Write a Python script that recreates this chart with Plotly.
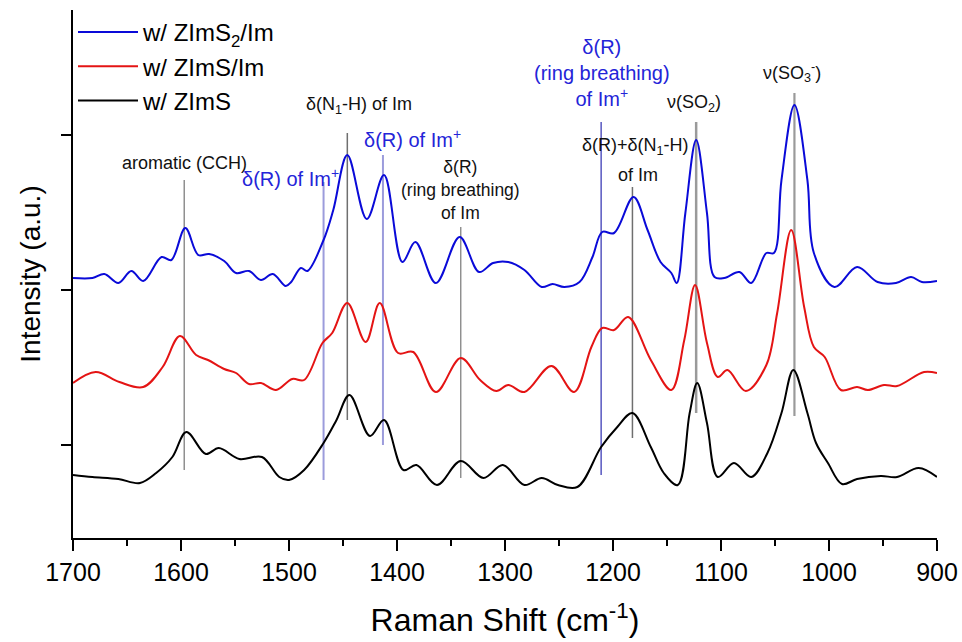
import plotly.graph_objects as go

# ---------------- data (Raman shift in cm-1, intensity in a.u.) ----------------
wn_blue = [1700, 1682, 1671, 1658, 1646, 1635, 1618, 1609, 1596, 1584,
           1574, 1560, 1549, 1537, 1526, 1515, 1503, 1498, 1489, 1483,
           1468, 1459, 1446, 1428, 1412, 1395, 1383, 1364, 1342, 1324,
           1311, 1297, 1282, 1266, 1256, 1245, 1231, 1219, 1210, 1199,
           1181, 1168, 1156, 1146, 1141, 1133, 1123, 1113, 1106, 1097,
           1083, 1072, 1058, 1051, 1044, 1032, 1020, 1014, 995, 974,
           955, 938, 924, 914, 900]
int_blue = [260, 260, 264, 255, 267, 257, 281, 278, 310, 283,
            284, 277, 265, 267, 258, 264, 252, 256, 270, 267,
            298, 328, 383, 319, 363, 276, 296, 255, 301, 266,
            275, 276, 268, 251, 254, 251, 256, 281, 306, 305,
            341, 308, 276, 265, 255, 325, 398, 325, 261, 260,
            266, 255, 285, 285, 358, 433, 358, 285, 251, 271,
            256, 255, 261, 256, 257]

wn_red = [1700, 1679, 1657, 1635, 1617, 1601, 1586, 1575, 1560, 1549,
          1537, 1526, 1512, 1497, 1486, 1469, 1460, 1446, 1429, 1416,
          1399, 1385, 1364, 1341, 1323, 1308, 1297, 1282, 1257, 1236,
          1220, 1210, 1199, 1186, 1165, 1146, 1134, 1124, 1113, 1103,
          1094, 1077, 1058, 1048, 1035, 1023, 1014, 1004, 989, 974,
          964, 949, 937, 912, 900]
int_red = [155, 166, 156, 151, 171, 202, 183, 178, 169, 165,
           154, 155, 148, 159, 158, 195, 205, 235, 196, 235,
           185, 186, 146, 180, 158, 147, 153, 146, 172, 146,
           191, 210, 208, 221, 178, 148, 198, 253, 195, 161,
           168, 147, 173, 225, 308, 231, 191, 181, 148, 151,
           148, 153, 152, 166, 165]

wn_black = [1700, 1682, 1658, 1638, 1623, 1608, 1595, 1577, 1565, 1546,
            1525, 1509, 1500, 1486, 1468, 1456, 1444, 1425, 1412, 1394,
            1382, 1363, 1341, 1320, 1302, 1282, 1266, 1251, 1233, 1211,
            1196, 1182, 1165, 1153, 1140, 1129, 1122, 1113, 1103, 1088,
            1072, 1057, 1044, 1033, 1020, 1012, 1001, 988, 974, 952,
            937, 917, 900]
int_black = [63, 61, 59, 55, 65, 81, 106, 84, 90, 79,
             81, 61, 58, 68, 95, 118, 143, 102, 118, 68,
             73, 53, 77, 60, 73, 53, 60, 53, 51, 91,
             111, 125, 91, 65, 53, 125, 155, 115, 61, 75,
             61, 85, 125, 168, 125, 95, 75, 54, 59, 62,
             61, 70, 61]

series_names = ["w/ ZImS<sub>2</sub>/Im", "w/ ZImS/Im", "w/ ZImS"]
series_colors = ["#0a0ad8", "#e41414", "#000000"]

x_ticks = [1700, 1600, 1500, 1400, 1300, 1200, 1100, 1000, 900]
y_ticks = [93, 248, 403]

# band-marker lines
mark_x = [1597, 1468, 1446, 1413, 1341, 1211, 1182, 1123, 1032]
mark_y0 = [68, 58, 118, 93, 60, 63, 100, 125, 122]
mark_y1 = [358, 356, 405, 383, 311, 416, 351, 416, 445]
mark_color = ["#8f8f8f", "#9c9cdc", "#6f6f6f", "#9c9cdc", "#8f8f8f",
              "#2d2db0", "#6f6f6f", "#9a9a9a", "#9a9a9a"]
mark_width = [1.5, 2, 1.5, 2, 1.5, 1.2, 1.5, 2.5, 2.2]

# band labels
lab_text = ["aromatic (CCH)",
            "δ(R) of Im<sup>+</sup>",
            "δ(N<sub>1</sub>-H) of Im",
            "δ(R) of Im<sup>+</sup>",
            "δ(R)<br>(ring breathing)<br>of Im",
            "δ(R)<br>(ring breathing)<br>of Im<sup>+</sup>",
            "δ(R)+δ(N<sub>1</sub>-H)",
            "of Im",
            "ν(SO<sub>2</sub>)",
            "ν(SO<sub>3</sub><sup>-</sup>)"]
lab_x = [1597, 1499, 1435, 1386, 1341, 1210, 1179, 1177, 1125, 1034]
lab_y = [375, 361, 433, 400, 348, 465, 392, 363, 435, 466]
lab_color = ["#111111", "#2424d8", "#111111", "#2424d8", "#111111",
             "#2424d8", "#111111", "#111111", "#111111", "#111111"]
lab_size = [18, 20, 18, 20, 17.5, 20, 18, 18, 18, 18]

# ---------------- figure ----------------
fig = go.Figure()
for wn, inten, name, col in zip([wn_blue, wn_red, wn_black],
                                [int_blue, int_red, int_black],
                                series_names, series_colors):
    fig.add_trace(go.Scatter(x=wn, y=inten, mode="lines", name=name,
                             line=dict(color=col, width=2, shape="spline", smoothing=1.0)))

for x, y0, y1, c, w in zip(mark_x, mark_y0, mark_y1, mark_color, mark_width):
    fig.add_shape(type="line", xref="x", yref="y", x0=x, x1=x, y0=y0, y1=y1,
                  line=dict(color=c, width=w), layer="below")

for t, x, y, c, s in zip(lab_text, lab_x, lab_y, lab_color, lab_size):
    fig.add_annotation(x=x, y=y, xref="x", yref="y", text=t, showarrow=False,
                       font=dict(size=s, color=c, family="Arial, Liberation Sans"),
                       xanchor="center", yanchor="middle", align="center")

fig.update_layout(
    width=962, height=642,
    margin=dict(l=73, r=25, t=10, b=104, autoexpand=False),
    paper_bgcolor="white", plot_bgcolor="white",
    font=dict(family="Arial, Liberation Sans", color="black"),
    showlegend=True,
    legend=dict(x=0.0, y=1.0, xanchor="left", yanchor="top",
                font=dict(size=24, color="black"), bgcolor="rgba(0,0,0,0)",
                itemwidth=60, tracegroupgap=0),
    xaxis=dict(range=[1700, 900], tickvals=x_ticks, ticks="outside", ticklen=11,
               tickwidth=1.5, tickcolor="black", showline=True, linewidth=1.5,
               linecolor="black", showgrid=False, zeroline=False, automargin=False,
               tickfont=dict(size=25),
               minor=dict(dtick=50, ticks="outside", ticklen=6, tickwidth=1.5,
                          tickcolor="black", showgrid=False),
               title=dict(text="Raman Shift (cm<sup>-1</sup>)", font=dict(size=32), standoff=24)),
    yaxis=dict(range=[0, 528], tickvals=y_ticks, showticklabels=False, ticks="outside",
               ticklen=10, tickwidth=1.5, tickcolor="black", showline=True, linewidth=1.5,
               linecolor="black", showgrid=False, zeroline=False, automargin=False,
               title=dict(text="Intensity (a.u.)", font=dict(size=28), standoff=12)),
)

fig.write_html("out.html")
